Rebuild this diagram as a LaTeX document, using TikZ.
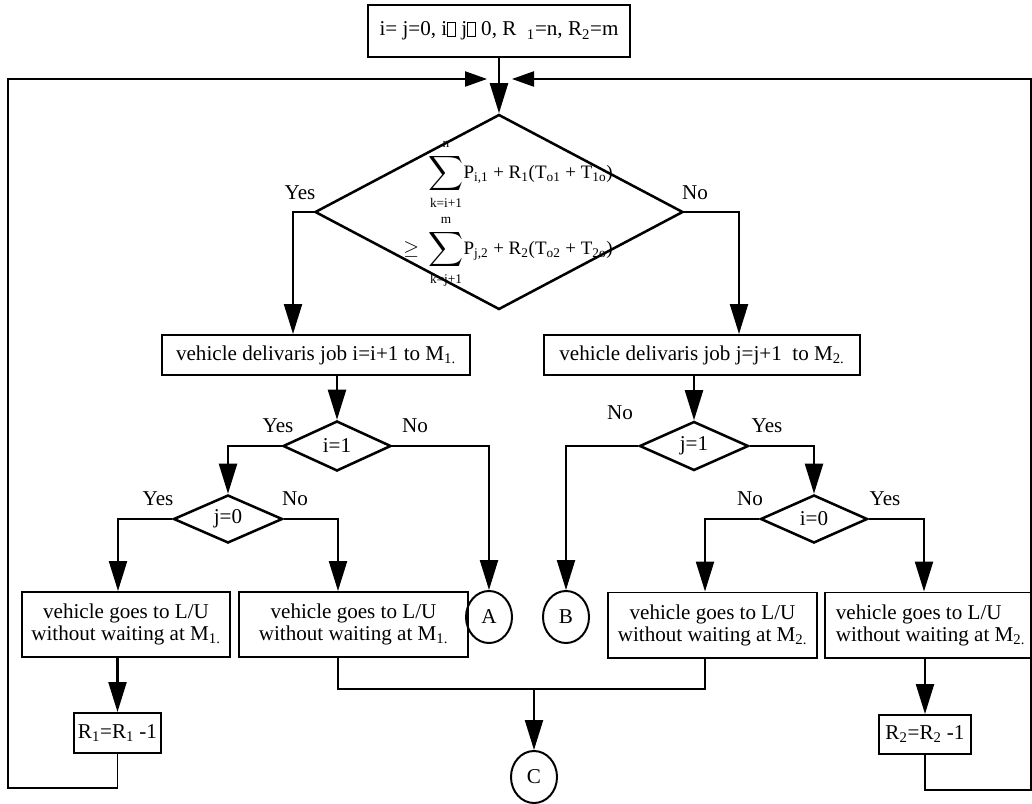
\documentclass[tikz,border=0pt]{standalone}
\usepackage{amsmath}
\usepackage{exscale}
\usepackage{fontspec}
\setmainfont{Liberation Serif}
\usetikzlibrary{shapes.geometric,arrows.meta}

\newcommand{\lowsub}[1]{\textsubscript{#1}}
\newcommand{\gapbox}{\mbox{\fboxsep=0pt\fboxrule=0.5pt\fbox{\rule{0pt}{0.65em}\hspace{0.35em}}}}
\newcommand{\bigsum}{\mathop{\vcenter{\hbox{\scalebox{1.2}{$\displaystyle\sum$}}}}\limits}
\newcommand{\uplim}[1]{\text{#1}\rule[-3pt]{0pt}{3pt}}
\newcommand{\dnlim}[1]{\rule{0pt}{8pt}\text{#1}}

\begin{document}
\begin{tikzpicture}[
    x=0.025cm, y=-0.025cm,
    every node/.style={font=\fontsize{15}{15.6}\selectfont},
    proc/.style={rectangle, draw, line width=1.4pt, inner sep=1pt, align=center, minimum height=#1},
    proc/.default=1cm,
    decision/.style={diamond, draw, line width=1.8pt, inner sep=0pt, minimum width=#1},
    conn/.style={ellipse, draw, line width=1.4pt, inner sep=0pt, minimum width=1.15cm, minimum height=1.3cm},
    arrow/.style={-{Triangle[length=0.75cm, width=0.45cm]}, line width=1.6pt},
    feed/.style={-{Triangle[length=0.55cm, width=0.38cm]}, line width=1.2pt},
    line/.style={line width=1.2pt},
    answer/.style={inner sep=0pt}
]

\useasboundingbox (0,0) rectangle (1032,803);

% Start
\node[proc=1.3cm, minimum width=6.55cm] (init) at (499,31)
    {i= j=0, i\gapbox\ j\gapbox\ 0, R\hspace{0.5em}\lowsub{1}=n, R\lowsub{2}=m};

% Main decision
\node[decision=9.2cm, minimum height=4.875cm] (cmp) at (499,212) {};
\node[align=left, inner sep=0pt, font=\fontsize{13.5}{14}\selectfont] (cmptext) at (508,214)
    {\phantom{$\geq$}\ \ $\bigsum_{\dnlim{k=i+1}}^{\uplim{n}}$P\lowsub{i,1} + R\lowsub{1}(T\lowsub{o1} + T\lowsub{1o})\\[3pt]
     $\geq$\ \ $\bigsum_{\dnlim{k=j+1}}^{\uplim{m}}$P\lowsub{j,2} + R\lowsub{2}(T\lowsub{o2} + T\lowsub{2o})};
\node[answer] (cmpy) at (300,193) {Yes};
\node[answer] (cmpn) at (695,193) {No};

% Delivery boxes
\node[proc, minimum width=7.7cm] (deliv1) at (316,355) {vehicle delivaris job i=i+1 to M\lowsub{1.}};
\node[proc, minimum width=7.9cm] (deliv2) at (702,355) {vehicle delivaris job j=j+1\ \ to M\lowsub{2.}};

% Small decisions
\node[decision=2.7cm, minimum height=1.25cm] (ione) at (337,446) {i=1};
\node[decision=2.725cm, minimum height=1.2cm] (jzero) at (228,519) {j=0};
\node[decision=2.725cm, minimum height=1.225cm] (jone) at (694,446) {j=1};
\node[decision=2.675cm, minimum height=1.2cm] (izero) at (814,519) {i=0};

\node[answer] (ioney) at (278,426) {Yes};
\node[answer] (ionen) at (415,426) {No};
\node[answer] (jzeroy) at (158,499) {Yes};
\node[answer] (jzeron) at (295,499) {No};
\node[answer] (jonen) at (620,413) {No};
\node[answer] (joney) at (767,426) {Yes};
\node[answer] (izeron) at (750,499) {No};
\node[answer] (izeroy) at (885,499) {Yes};

% Waiting boxes
\node[proc=1.625cm, minimum width=5.2cm] (wait1a) at (126,624.5) {vehicle goes to L/U\\without waiting at M\lowsub{1.}};
\node[proc=1.625cm, minimum width=5.725cm] (wait1b) at (353.5,624.5) {vehicle goes to L/U\\without waiting at M\lowsub{1.}};
\node[proc=1.625cm, minimum width=5.225cm] (wait2a) at (712.5,625) {vehicle goes to L/U\\without waiting at M\lowsub{2.}};
\node[proc=1.625cm, minimum width=5.275cm, align=left] (wait2b) at (930.5,625) {vehicle goes to L/U\\without waiting at M\lowsub{2.}};

% Counters
\node[proc, minimum width=2.175cm] (dec1) at (117.5,733) {R\lowsub{1}=R\lowsub{1} -1};
\node[proc=0.975cm, minimum width=2.3cm] (dec2) at (925,734.5) {R\lowsub{2}=R\lowsub{2} -1};

% Connectors
\node[conn] (A) at (489,617) {A};
\node[conn] (B) at (566,617) {B};
\node[conn] (C) at (534,777) {C};

% Bend points
\coordinate (ltip) at (487,79);
\coordinate (rtip) at (512,79);
\coordinate (lbot) at (8,788);
\coordinate (ltop) at (8,79);
\coordinate (rbot) at (1031,790);
\coordinate (rtop) at (1031,79);
\coordinate (cmpyes) at (293,212);
\coordinate (cmpno) at (739,212);
\coordinate (jzyes) at (118,519);
\coordinate (jzno) at (338,519);
\coordinate (izno) at (705,519);
\coordinate (izyes) at (924,519);
\coordinate (jl) at (338,689);
\coordinate (jr) at (705,689);

% Arrows
\draw[arrow] (init.south) -- (cmp.north);
\draw[arrow] (cmp.west) -- (cmpyes) -- (cmpyes |- deliv1.north);
\draw[arrow] (cmp.east) -- (cmpno) -- (cmpno |- deliv2.north);

\draw[arrow] (deliv1.south -| ione.north) -- (ione.north);
\draw[arrow] (ione.west) -| (jzero.north);
\draw[arrow] (ione.east) -| (A.north);
\draw[arrow] (jzero.west) -- (jzyes) -- (jzyes |- wait1a.north);
\draw[arrow] (jzero.east) -- (jzno) -- (jzno |- wait1b.north);
\draw[arrow] (wait1a.south -| dec1.north) -- (dec1.north);

\draw[arrow] (deliv2.south -| jone.north) -- (jone.north);
\draw[arrow] (jone.west) -| (B.north);
\draw[arrow] (jone.east) -| (izero.north);
\draw[arrow] (izero.west) -- (izno) -- (izno |- wait2a.north);
\draw[arrow] (izero.east) -- (izyes) -- (izyes |- wait2b.north);
\draw[arrow] (wait2b.south -| dec2.north) -- (dec2.north);

% Join to C
\draw[line] (wait1b.south -| jl) -- (jl) -- (jr) -- (wait2a.south -| jr);
\draw[arrow] (C.north |- jl) -- (C.north);

% Loops back
\draw[feed] (dec1.south) |- (lbot) -- (ltop) -- (ltip);
\draw[feed] (dec2.south) |- (rbot) -- (rtop) -- (rtip);

\end{tikzpicture}
\end{document}
